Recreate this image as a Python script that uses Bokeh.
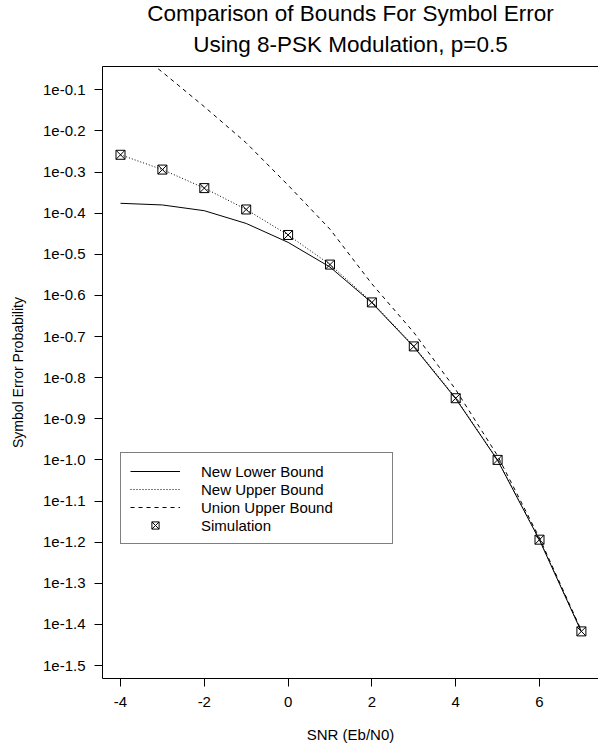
from bokeh.plotting import figure
from bokeh.models import (Range1d, FixedTicker, CustomJSTickFormatter, LinearAxis,
                          Legend, LegendItem, Title)
from bokeh.embed import file_html
from bokeh.resources import INLINE

# ---- data (log10 of symbol error probability) ----
snr = [-4, -3, -2, -1, 0, 1, 2, 3, 4, 5, 6, 7]
lower_bound = [-0.376, -0.380, -0.394, -0.425, -0.471, -0.531, -0.618, -0.725, -0.851, -1.001, -1.195, -1.418]
upper_bound = [-0.258, -0.294, -0.339, -0.391, -0.453, -0.525, -0.616, -0.723, -0.849, -1.000, -1.194, -1.417]
union_bound = [0.023, -0.057, -0.141, -0.229, -0.332, -0.439, -0.572, -0.690, -0.829, -0.990, -1.190, -1.415]
simulation = [-0.258, -0.294, -0.339, -0.391, -0.453, -0.525, -0.617, -0.724, -0.850, -1.000, -1.194, -1.417]

x_ticks = [-4, -2, 0, 2, 4, 6]
y_ticks = [-0.1, -0.2, -0.3, -0.4, -0.5, -0.6, -0.7, -0.8, -0.9, -1.0, -1.1, -1.2, -1.3, -1.4, -1.5]

title_line1 = "Comparison of Bounds For Symbol Error"
title_line2 = "Using 8-PSK Modulation, p=0.5"

FONT = "Liberation Sans"

p = figure(width=598, height=745, output_backend="svg", toolbar_location=None,
           title=None,
           x_range=Range1d(-4.4296, 7.408), y_range=Range1d(-1.5316, -0.0433),
           min_border_left=102, min_border_right=0, min_border_top=66, min_border_bottom=67)

p.outline_line_color = None
p.grid.visible = False
p.background_fill_color = "white"
p.border_fill_color = "white"

# axes
for ax in (p.xaxis[0], p.yaxis[0]):
    ax.axis_line_color = "black"
    ax.major_tick_line_color = "black"
    ax.major_tick_in = 0
    ax.major_tick_out = 8
    ax.minor_tick_line_color = None
    ax.major_label_text_font = FONT
    ax.major_label_text_font_size = "15px"
    ax.major_label_text_color = "black"
    ax.axis_label_text_font = FONT
    ax.axis_label_text_font_size = "15px"
    ax.axis_label_text_font_style = "normal"
    ax.axis_label_text_color = "black"

p.xaxis.ticker = FixedTicker(ticks=x_ticks)
p.xaxis.formatter = CustomJSTickFormatter(code="return String(tick);")
p.xaxis.major_label_standoff = 10
p.xaxis.axis_label = "SNR (Eb/N0)"
p.xaxis.axis_label_standoff = 16

p.yaxis.ticker = FixedTicker(ticks=y_ticks)
p.yaxis.formatter = CustomJSTickFormatter(code="return '1e' + tick.toFixed(1);")
p.yaxis.major_label_orientation = "horizontal"
p.yaxis.major_label_standoff = 9
p.yaxis.axis_label = "Symbol Error Probability"
p.yaxis.axis_label_standoff = 14
p.yaxis.axis_label_text_font_size = "14px"

# top border line (box)
top_axis = LinearAxis(ticker=FixedTicker(ticks=[]), major_label_text_font_size="0px",
                      major_tick_line_color=None, minor_tick_line_color=None,
                      axis_line_color="black")
p.add_layout(top_axis, "above")

# titles (added nearest-first)
p.add_layout(Title(text=title_line2, align="center", text_font=FONT, text_font_size="22.5px",
                   text_font_style="normal", text_color="black", standoff=19), "above")
p.add_layout(Title(text=title_line1, align="center", text_font=FONT, text_font_size="22.5px",
                   text_font_style="normal", text_color="black", standoff=-10), "above")

# series
r_low = p.line(snr, lower_bound, line_color="black", line_width=1)
r_up = p.line(snr, upper_bound, line_color="black", line_width=1, line_dash="1 2")
r_union = p.line(snr, union_bound, line_color="black", line_width=1, line_dash="4 4")
r_sim = p.scatter(snr, simulation, marker="square_x", size=9, fill_color=None,
                  line_color="black", line_width=1)

legend = Legend(items=[
    LegendItem(label="New Lower Bound", renderers=[r_low]),
    LegendItem(label="New Upper Bound", renderers=[r_up]),
    LegendItem(label="Union Upper Bound", renderers=[r_union]),
    LegendItem(label="Simulation", renderers=[r_sim]),
], location=(18, 134))
legend.padding = 9
legend.spacing = 0
legend.margin = 0
legend.label_height = 18
legend.glyph_height = 18
legend.glyph_width = 50
legend.label_standoff = 21
legend.label_width = 182
legend.label_text_font = FONT
legend.label_text_font_size = "15px"
legend.label_text_color = "black"
legend.border_line_color = "black"
legend.border_line_width = 1
legend.background_fill_color = "white"
legend.background_fill_alpha = 1.0
p.add_layout(legend, "center")

open("out.html", "w").write(file_html(p, INLINE))
